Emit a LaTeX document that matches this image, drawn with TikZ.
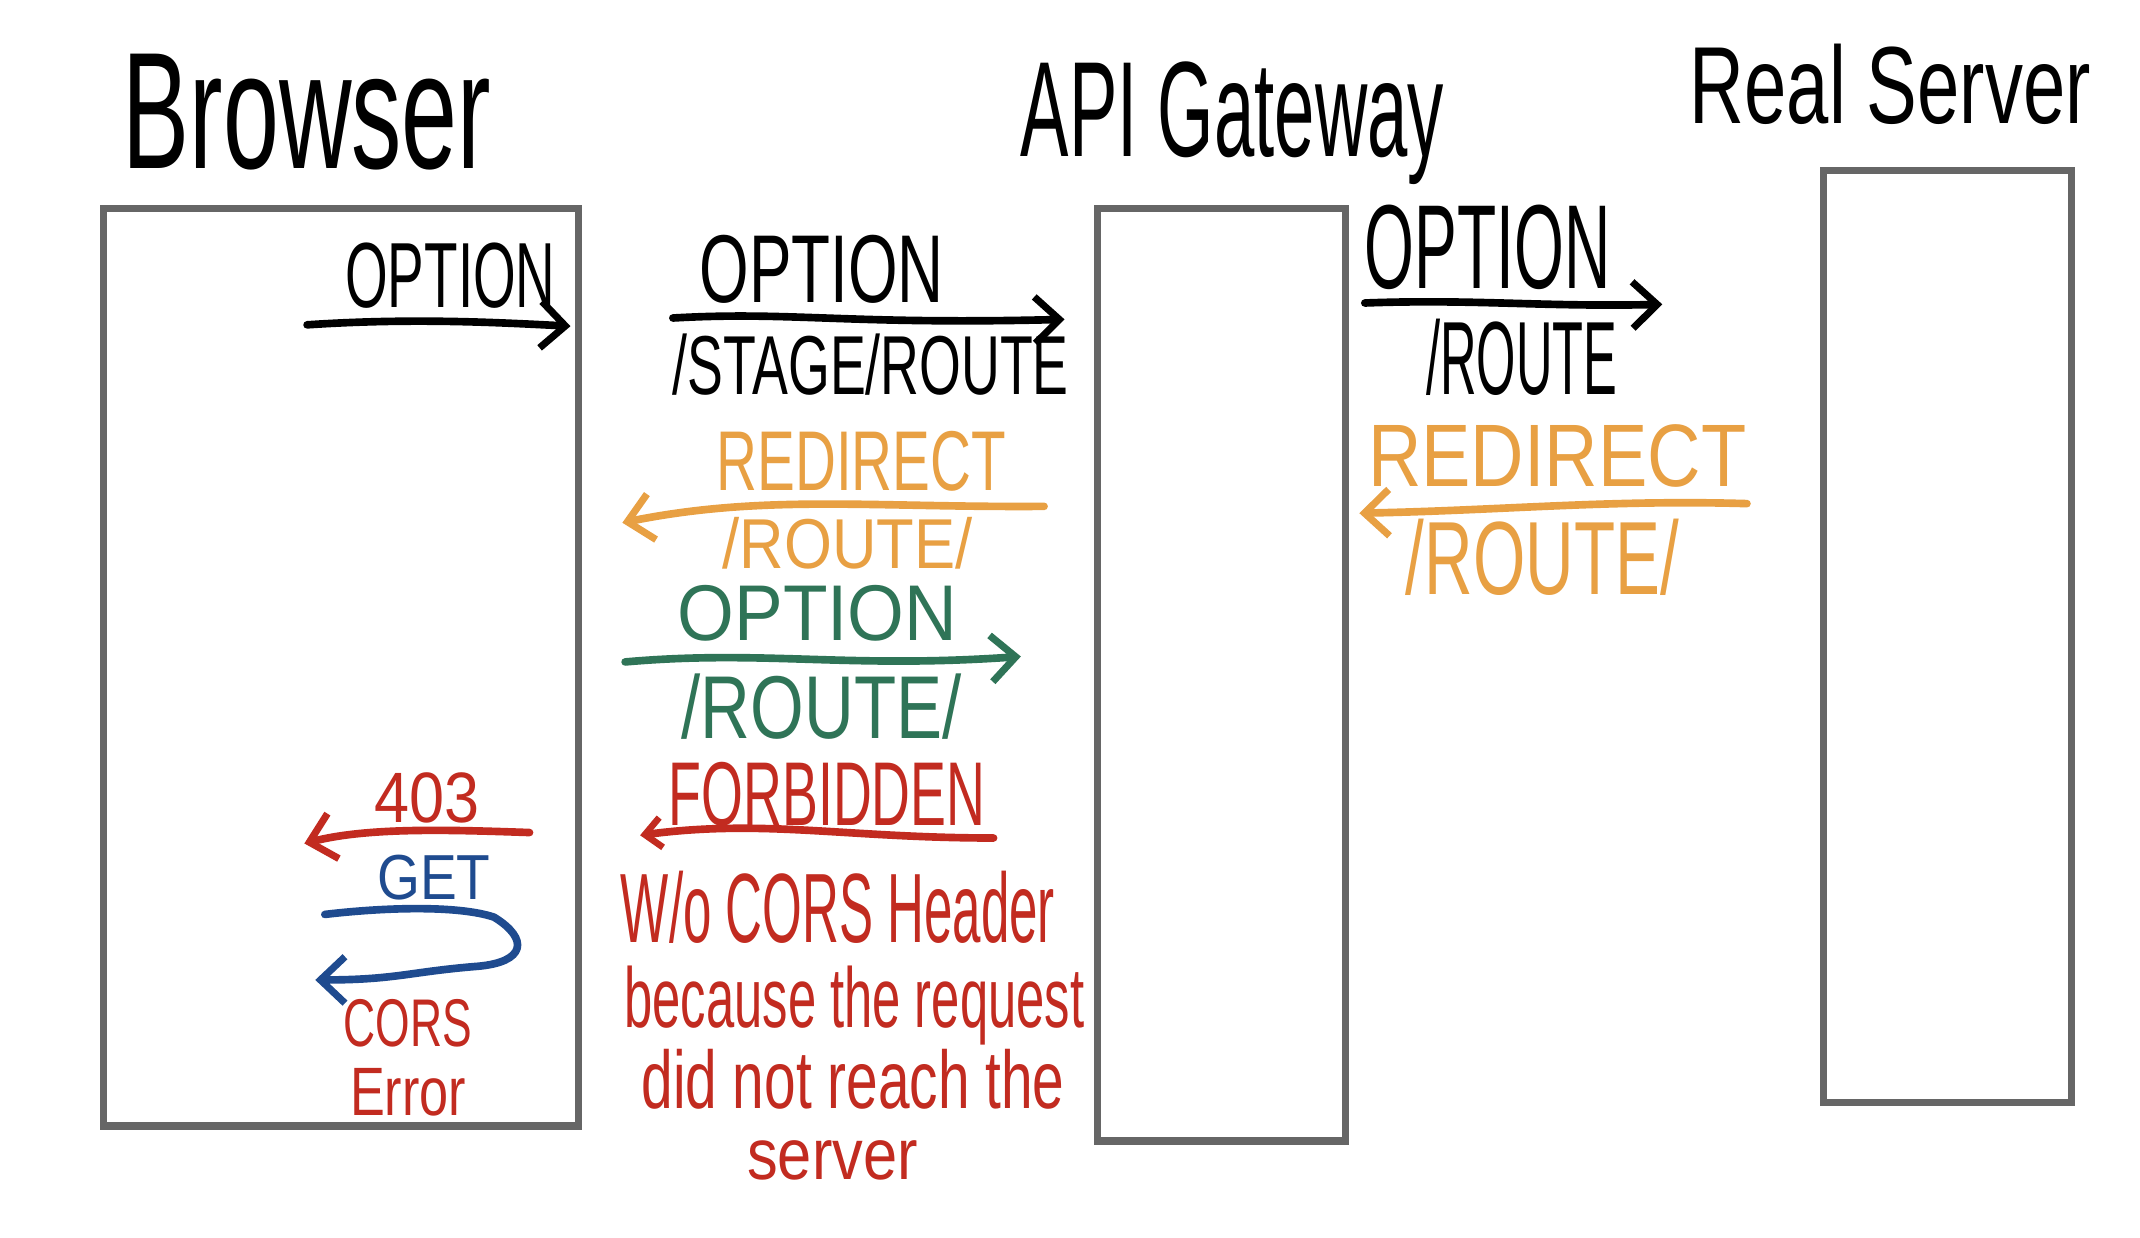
\documentclass[tikz,border=0pt]{standalone}
\usepackage{graphicx}
\usepackage{fontspec}
\setmainfont{Liberation Sans}
\usetikzlibrary{arrows.meta}
\newlength\upx \setlength\upx{0.5pt}
\newcommand\fb[3]{\resizebox*{#1\upx}{#2\upx}{#3}}
\definecolor{boxgray}{HTML}{666666}
\definecolor{hOrange}{HTML}{E8A043}
\definecolor{hGreen}{HTML}{2F7457}
\definecolor{hRed}{HTML}{C22B20}
\definecolor{hBlue}{HTML}{1F4B8F}
\tikzset{
  lane/.style={draw=boxgray, line width=2.6pt, inner sep=0, fill=none},
  lbl/.style={inner sep=0, anchor=center},
  harrow/.style={line width=2.8pt, line cap=round, line join=round,
    -{Straight Barb[length=9pt,width=17pt,line width=2.6pt]}},
}
\begin{document}
\begin{tikzpicture}[x=0.5pt,y=-0.5pt]
\useasboundingbox (0,0) rectangle (1568,907);
\fill[white] (0,0) rectangle (1568,907);
% lanes
\node[lane, minimum width=348\upx, minimum height=672\upx] (browser) at (250,489) {};
\node[lane, minimum width=182\upx, minimum height=683\upx] (gateway) at (895,494.5) {};
\node[lane, minimum width=182\upx, minimum height=683\upx] (server) at (1427,466.5) {};
% titles
\node[lbl] (tBrowser) at (225,82) {\fb{270}{85}{Browser}};
\node[lbl] (tGateway) at (903,90) {\fb{310}{90}{API Gateway}};
\node[lbl] (tServer) at (1385,62) {\fb{294}{59}{Real Server}};
% browser -> gateway option
\node[lbl] (o1) at (330,202) {\fb{154}{48}{OPTION}};
\coordinate (o1s) at (225,238);
\coordinate (o1e) at (418,239);
\draw[harrow] (o1s) .. controls (300,233) and (360,236) .. (o1e);
% mid black
\node[lbl] (o2) at (602,197) {\fb{179}{50}{OPTION}};
\node[lbl] (p2) at (638,267) {\fb{290}{45}{/STAGE/ROUTE}};
\coordinate (o2s) at (493,233);
\coordinate (o2e) at (780,234);
\draw[harrow] (o2s) .. controls (580,228) and (620,238) .. (o2e);
% right black
\node[lbl] (o3) at (1090,181) {\fb{180}{62}{OPTION}};
\node[lbl] (p3) at (1115,262) {\fb{140}{56}{/ROUTE}};
\coordinate (o3s) at (1000,222);
\coordinate (o3e) at (1218,223);
\draw[harrow] (o3s) .. controls (1080,219) and (1130,225) .. (o3e);
% right orange
\node[lbl, text=hOrange] (r1) at (1141,334) {\fb{277}{46}{REDIRECT}};
\node[lbl, text=hOrange] (rp1) at (1130,408) {\fb{200}{56}{/ROUTE/}};
\coordinate (r1s) at (1280,369);
\coordinate (r1e) at (996,376);
\draw[harrow, draw=hOrange] (r1s) .. controls (1180,366) and (1100,374) .. (r1e);
% mid orange
\node[lbl, text=hOrange] (r2) at (631,338) {\fb{212}{44}{REDIRECT}};
\node[lbl, text=hOrange] (rp2) at (621,398) {\fb{183}{38}{/ROUTE/}};
\coordinate (r2s) at (765,371);
\coordinate (r2e) at (456,383);
\draw[harrow, draw=hOrange] (r2s) .. controls (640,372) and (560,362) .. (r2e);
% green
\node[lbl, text=hGreen] (g1) at (599,449) {\fb{205}{41}{OPTION}};
\node[lbl, text=hGreen] (gp1) at (602,518) {\fb{205}{48}{/ROUTE/}};
\coordinate (g1s) at (458,485);
\coordinate (g1e) at (748,481);
\draw[harrow, draw=hGreen] (g1s) .. controls (560,476) and (620,490) .. (g1e);
% red forbidden
\node[lbl, text=hRed] (f1) at (606,582) {\fb{232}{47}{FORBIDDEN}};
\coordinate (f1s) at (728,614);
\coordinate (f1e) at (469,612);
\draw[harrow, draw=hRed, -{Straight Barb[length=6pt,width=11pt,line width=2.4pt]}] (f1s) .. controls (620,614) and (560,600) .. (f1e);
\node[lbl, text=hRed] (n1) at (614,665) {\fb{318}{53}{W/o CORS Header}};
\node[lbl, text=hRed] (n2) at (626,737) {\fb{337}{58}{because the request}};
\node[lbl, text=hRed] (n3) at (625,791) {\fb{310}{44}{did not reach the}};
\node[lbl, text=hRed] (n4) at (610,850) {\fb{125}{29}{server}};
% 403
\node[lbl, text=hRed] (e403) at (313,585) {\fb{77}{37}{403}};
\coordinate (e4s) at (388,610);
\coordinate (e4e) at (223,618);
\draw[harrow, draw=hRed] (e4s) .. controls (330,608) and (270,606) .. (e4e);
% GET loop
\node[lbl, text=hBlue] (get) at (318,643) {\fb{83}{33}{GET}};
\coordinate (gs) at (238,670);
\coordinate (ge) at (231,718);
\draw[harrow, draw=hBlue] (gs) .. controls (280,665) and (335,663) .. (362,672)
  .. controls (388,688) and (385,705) .. (350,708)
  .. controls (300,712) and (290,718) .. (ge);
\node[lbl, text=hRed] (cors) at (299,750) {\fb{94}{35}{CORS}};
\node[lbl, text=hRed] (err) at (299,800) {\fb{85}{35}{Error}};
\end{tikzpicture}
\end{document}
